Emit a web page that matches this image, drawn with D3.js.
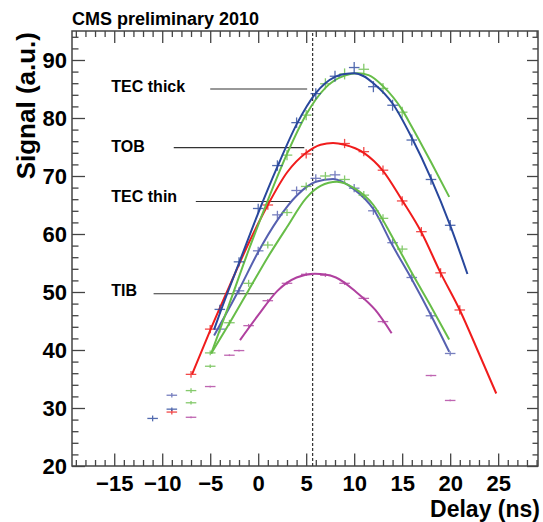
<!DOCTYPE html>
<html>
<head>
<meta charset="utf-8">
<script src="https://cdn.jsdelivr.net/npm/d3@7"></script>
<style>
	body{margin:0;background:#fff;}
	svg text{font-family:"Liberation Sans",Arial,Helvetica,sans-serif;font-weight:bold;fill:#000;}
</style>
</head>
<body>
<svg id="chart" width="543" height="522"></svg>
<script>
//measured points: [delay (ns), signal (a.u.), signal error]
const tecThickBluePts = [[-11,28.2,0.5],[-9,29.8,0.3],[-4,47.0,0.8],[-2,55.2,0.8],[0,64.4,0.8],[2,71.8,0.9],[4,79.2,0.9],[6,84.2,0.95],[8,87.2,0.95],[10,88.7,0.95],[12,85.4,0.95],[14,82.2,0.95],[16,76.2,0.95],[18,69.4,0.9],[20,61.5,0.9]];
const tecThickGreenPts = [[-7,33.0,0.4],[-5,37.2,0.3],[3,73.6,0.9],[5,80.5,0.9],[7,85.9,0.95],[9,87.6,0.95],[11,88.4,0.95],[13,85.1,0.95],[15,81.0,0.95]];
const tobPts = [[-9,29.3,0.4],[-7,35.8,0.6],[-5,43.6,0.7],[1,65.0,0.8],[5,73.8,0.8],[9,75.6,0.8],[11,74.2,0.8],[13,71.0,0.8],[15,65.7,0.8],[17,60.4,0.8],[19,53.3,0.8],[21,46.9,0.8]];
const tecThinBluePts = [[-9,32.2,0.4],[-4,43.6,0.6],[-2,50.2,0.6],[0,57.1,0.7],[2,63.3,0.7],[4,67.5,0.7],[6,69.6,0.7],[8,70.2,0.7],[10,67.9,0.7],[12,64.0,0.7],[14,58.5,0.7],[16,52.5,0.7],[18,45.9,0.6],[20,39.4,0.4]];
const tecThinGreenPts = [[-7,30.9,0.3],[-5,39.5,0.4],[-3,44.7,0.5],[-1,51.5,0.6],[1,58.1,0.6],[3,63.7,0.6],[5,68.2,0.7],[7,70.0,0.7],[9,69.4,0.7],[11,66.7,0.7],[13,62.7,0.7],[15,57.4,0.6]];
const tibPts = [[-7,28.4,0.15],[-5,33.7,0.15],[-3,39.1,0.15],[-2,39.9,0.15],[-1,44.2,0.3],[1,48.5,0.3],[3,51.5,0.3],[5,53.05,0.3],[7,52.9,0.3],[9,51.5,0.3],[11,48.9,0.3],[13,44.9,0.3],[18,35.6,0.15],[20,31.3,0.15]];

//fitted pulse shapes: [delay, signal]
const tecThickBlueFit = [[-4.6,43.5],[-4,46.3],[-2,55.0],[0,63.6],[2,71.6],[4,78.9],[6,84.3],[8,87.1],[9,87.6],[10,87.7],[11,87.2],[12,86.0],[14,82.5],[16,76.6],[18,69.6],[20,61.5],[21.8,53.1]];
const tecThickGreenFit = [[-4.9,39.4],[-3,48.0],[-1,57.2],[1,65.8],[3,73.8],[5,80.6],[7,85.2],[9,87.3],[10.4,87.7],[11.5,87.4],[13,85.5],[15,81.4],[16,78.5],[18,72.4],[19.9,66.4]];
const tobFit = [[-6.9,35.8],[-5,43.4],[-3,51.0],[-1,58.4],[1,65.0],[3,70.6],[5,74.0],[6.5,75.4],[7.8,75.7],[9,75.4],[11,74.0],[13,70.9],[15,65.8],[17,60.3],[19,53.3],[21,46.9],[23,39.4],[24.8,32.5]];
const tecThinBlueFit = [[-4.6,42.5],[-2,50.4],[0,56.9],[2,62.4],[4,66.6],[6,69.0],[7.8,69.5],[10,67.7],[12,64.3],[14,58.0],[16,52.2],[18,46.0],[19.9,39.7]];
const tecThinGreenFit = [[-4.9,39.4],[-3,44.6],[-1,50.3],[1,56.0],[3,61.2],[5,66.2],[6.5,68.3],[8.2,69.0],[10,67.9],[12,65.0],[14,59.4],[16,53.3],[18,47.5],[19.9,41.8]];
const tibFit = [[-1.9,41.7],[0,46.0],[2,50.2],[4,52.5],[5.9,53.15],[7,53.0],[8.1,52.5],[10.2,50.0],[12.2,46.9],[13.9,42.9]];

//subdetector labels and their pointer lines (data units)
const labelNames = ['TEC thick','TOB','TEC thin','TIB'];
const labelTextY = [84.5,74.2,65.5,49.3];
const labelLineY = [85.0,74.9,65.6,49.7];
const labelLineFrom = [-5.0,-8.8,-6.5,-10.9];
const labelLineTo = [5.1,4.8,3.5,1.7];
const labelTextX = -15.3;

const xTicks = [-15,-10,-5,0,5,10,15,20,25];
const yTicks = [20,30,40,50,60,70,80,90];
const peakDelay = 5.67; //dashed line
const xErr = 0.55;

const series = [
	{pts:tecThinBluePts, fit:tecThinBlueFit, color:'#5660b0'},
	{pts:tecThinGreenPts, fit:tecThinGreenFit, color:'#67bd48'},
	{pts:tibPts, fit:tibFit, color:'#b0409f'},
	{pts:tobPts, fit:tobFit, color:'#f01c1c'},
	{pts:tecThickGreenPts, fit:tecThickGreenFit, color:'#67bd48'},
	{pts:tecThickBluePts, fit:tecThickBlueFit, color:'#28479c'}
];

const _m = {t:31,r:5,b:56,l:72};
const W = 543, H = 522;
const svg = d3.select('#chart');

const x = d3.scaleLinear().domain([-19.4,29.15]).range([_m.l,W-_m.r]);
const y = d3.scaleLinear().domain([20,95]).range([H-_m.b,_m.t]);

const xMinor = d3.range(-19,30,1).filter(d=>d%5!==0);
const yMinor = d3.range(22,95,2).filter(d=>d%10!==0);
const axisColor = '#444';

function styleAxis(g){
	g.select('.domain').remove();
	g.selectAll('line').attr('stroke',axisColor).attr('stroke-width',1.3);
	g.selectAll('text').style('font-size','22px').attr('fill','#000');
}

//bottom axis with labels, ticks pointing into the frame
svg.append('g')
	.attr('transform',`translate(0,${y(20)})`)
	.call(d3.axisBottom(x).tickValues(xTicks).tickSize(-12.5).tickPadding(9.5).tickFormat(d3.format('d')))
	.call(styleAxis);
svg.append('g')
	.attr('transform',`translate(0,${y(20)})`)
	.call(d3.axisBottom(x).tickValues(xMinor).tickSize(-6).tickFormat(''))
	.call(styleAxis);
//top mirror ticks
svg.append('g')
	.attr('transform',`translate(0,${y(95)})`)
	.call(d3.axisTop(x).tickValues(xTicks).tickSize(-12).tickFormat(''))
	.call(styleAxis);
svg.append('g')
	.attr('transform',`translate(0,${y(95)})`)
	.call(d3.axisTop(x).tickValues(xMinor).tickSize(-6).tickFormat(''))
	.call(styleAxis);

//left axis
svg.append('g')
	.attr('transform',`translate(${x.range()[0]},0)`)
	.call(d3.axisLeft(y).tickValues(yTicks).tickSize(-13).tickPadding(5).tickFormat(d3.format('d')))
	.call(styleAxis);
svg.append('g')
	.attr('transform',`translate(${x.range()[0]},0)`)
	.call(d3.axisLeft(y).tickValues(yMinor).tickSize(-6.5).tickFormat(''))
	.call(styleAxis);
//right mirror ticks
svg.append('g')
	.attr('transform',`translate(${x.range()[1]},0)`)
	.call(d3.axisRight(y).tickValues(yTicks).tickSize(-11).tickFormat(''))
	.call(styleAxis);
svg.append('g')
	.attr('transform',`translate(${x.range()[1]},0)`)
	.call(d3.axisRight(y).tickValues(yMinor).tickSize(-5.5).tickFormat(''))
	.call(styleAxis);

//frame
svg.append('rect')
	.attr('x',x.range()[0])
	.attr('y',y.range()[1])
	.attr('width',x.range()[1]-x.range()[0])
	.attr('height',y.range()[0]-y.range()[1])
	.style('fill','none')
	.style('stroke',axisColor)
	.style('stroke-width',1.5);

//dashed reference line
svg.append('line')
	.attr('x1',x(peakDelay)).attr('x2',x(peakDelay))
	.attr('y1',y(20)).attr('y2',y(95))
	.style('stroke','#333')
	.style('stroke-width',1.2)
	.style('stroke-dasharray','3,2');

//labels with pointer lines
const labels = svg.append('g').attr('class','labels')
	.selectAll('g')
	.data(labelNames)
	.enter()
	.append('g');
labels.append('text')
	.attr('x',x(labelTextX))
	.attr('y',(d,i)=>y(labelTextY[i]))
	.style('font-size','16px')
	.text(d=>d);
labels.append('line')
	.attr('x1',(d,i)=>x(labelLineFrom[i]))
	.attr('x2',(d,i)=>x(labelLineTo[i]))
	.attr('y1',(d,i)=>y(labelLineY[i]))
	.attr('y2',(d,i)=>y(labelLineY[i]))
	.style('stroke','#333')
	.style('stroke-width',1.2);

//data points as error crosses
const line = d3.line()
	.x(d=>x(d[0]))
	.y(d=>y(d[1]))
	.curve(d3.curveMonotoneX);

const groups = svg.append('g').attr('class','series')
	.selectAll('g')
	.data(series)
	.enter()
	.append('g');

groups.each(function(s){
	const g = d3.select(this);
	const pts = g.selectAll('.pt')
		.data(s.pts)
		.enter()
		.append('g').attr('class','pt')
		.style('stroke',s.color)
		.style('stroke-width',1.3)
		.style('opacity',0.8);
	pts.append('line')
		.attr('x1',d=>x(d[0]-xErr)).attr('x2',d=>x(d[0]+xErr))
		.attr('y1',d=>y(d[1])).attr('y2',d=>y(d[1]));
	pts.append('line')
		.attr('x1',d=>x(d[0])).attr('x2',d=>x(d[0]))
		.attr('y1',d=>y(d[1]-d[2])).attr('y2',d=>y(d[1]+d[2]));
});

groups.append('path')
	.attr('d',s=>line(s.fit))
	.style('fill','none')
	.style('stroke',s=>s.color)
	.style('stroke-width',2);

//titles
svg.append('text')
	.attr('x',72)
	.attr('y',25)
	.style('font-size','18px')
	.text('CMS preliminary 2010');
svg.append('text')
	.attr('transform','translate(35,32) rotate(-90)')
	.attr('text-anchor','end')
	.style('font-size','26px')
	.text('Signal (a.u.)');
svg.append('text')
	.attr('x',540)
	.attr('y',516.5)
	.attr('text-anchor','end')
	.style('font-size','23px')
	.text('Delay (ns)');
</script>
</body>
</html>
